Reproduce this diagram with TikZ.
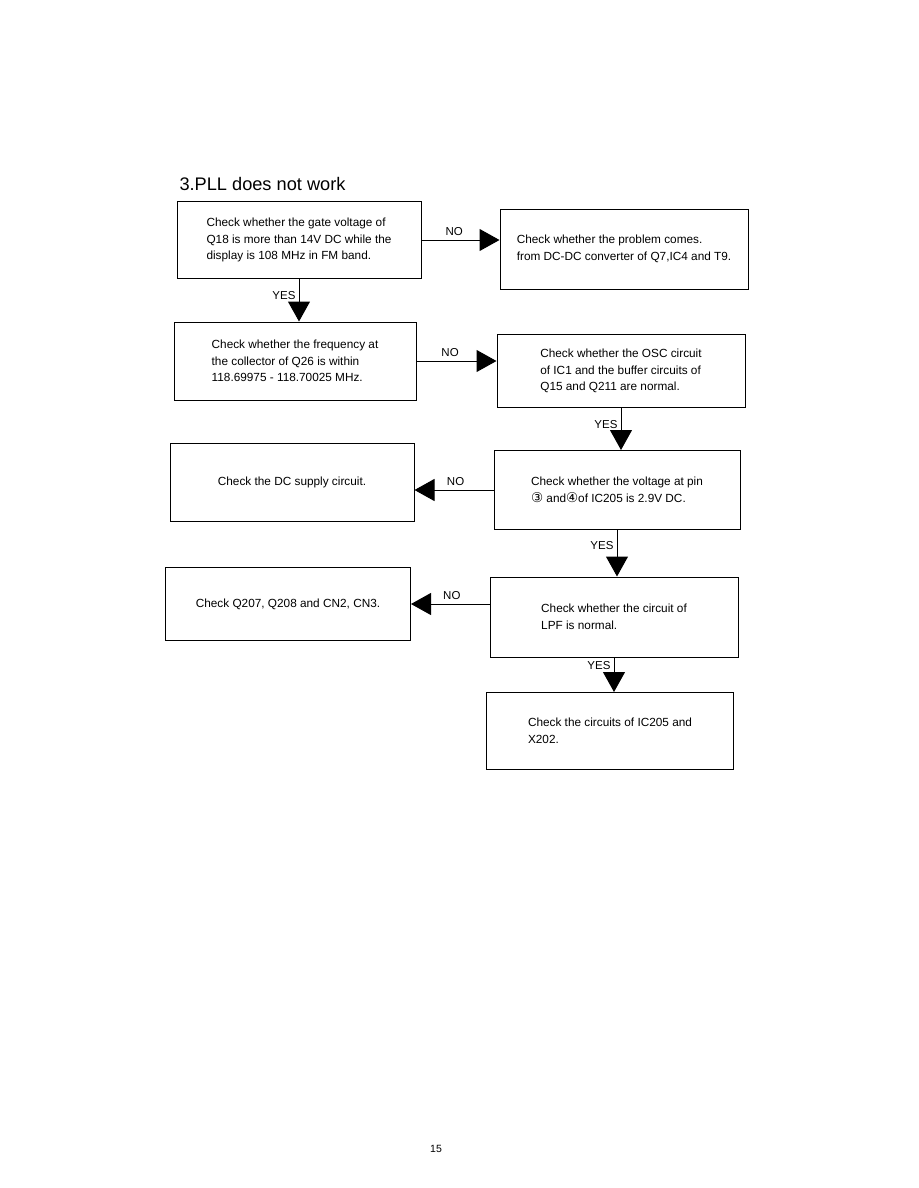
\documentclass[tikz,border=0pt]{standalone}
\usepackage{fontspec}
\setmainfont{Liberation Sans}
\newfontfamily\circfont{DejaVu Sans}
\newcommand{\pin}[1]{{\circfont\fontsize{13.5}{16}\selectfont #1}}
\usetikzlibrary{arrows.meta}
\begin{document}
\begin{tikzpicture}[x=1pt, y=-1pt,
  box/.style={draw, line width=1pt, align=left, inner sep=0pt,
    font=\fontsize{11.8}{16.6}\selectfont},
  flow/.style={-{Triangle[length=20pt,width=22pt]}, line width=1pt},
  yes/.style={font=\fontsize{11.5}{12}\selectfont, anchor=east, inner sep=3pt},
  no/.style={font=\fontsize{11.5}{12}\selectfont, above, inner sep=4pt}]
\useasboundingbox (0,0) rectangle (918,1188);
\node[anchor=west, font=\fontsize{18.2}{20}\selectfont] (title) at (176,184) {3.PLL does not work};
\node[box, minimum width=244pt, minimum height=77pt] (gate) at (299,240)
  {Check whether the gate voltage of\\Q18 is more than 14V DC while the\\display is 108 MHz in FM band.};
\node[box, minimum width=248pt, minimum height=80pt] (source) at (624,249)
  {Check whether the problem comes.\\from DC-DC converter of Q7,IC4 and T9.};
\node[box, minimum width=242pt, minimum height=78pt] (freq) at (295,361)
  {Check whether the frequency at\\the collector of Q26 is within\\118.69975 - 118.70025 MHz.};
\node[box, minimum width=248pt, minimum height=73pt] (osc) at (621,371)
  {Check whether the OSC circuit\\of IC1 and the buffer circuits of\\Q15 and Q211 are normal.};
\node[box, minimum width=244pt, minimum height=78pt] (supply) at (292,482)
  {Check the DC supply circuit.};
\node[box, minimum width=246pt, minimum height=79pt] (pinv) at (617,490)
  {Check whether the voltage at pin\\\pin{③} and\pin{④}of IC205 is 2.9V DC.};
\node[box, minimum width=248pt, minimum height=80pt] (lpf) at (614,617)
  {Check whether the circuit of\\LPF is normal.};
\node[box, minimum width=245pt, minimum height=73pt] (conn) at (288,604)
  {Check Q207, Q208 and CN2, CN3.};
\node[box, minimum width=247pt, minimum height=77pt] (xtal) at (610,731)
  {Check the circuits of IC205 and\\X202.};
\node[font=\fontsize{10.5}{12}\selectfont] (page) at (436,1149) {15};

\draw[flow] (gate.east) -- (gate.east -| source.west) node[no, pos=.42] {NO};
\draw[flow] (gate.south) -- (gate.south |- freq.north) node[yes, pos=.4] {YES};
\draw[flow] (freq.east) -- (freq.east -| osc.west) node[no, pos=.42] {NO};
\draw[flow] (osc.south) -- (osc.south |- pinv.north) node[yes, pos=.4] {YES};
\draw[flow] (pinv.west) -- (pinv.west -| supply.east) node[no, pos=.48] {NO};
\draw[flow] (pinv.south) -- (pinv.south |- lpf.north) node[yes, pos=.33] {YES};
\draw[flow] (lpf.west |- conn.east) -- (conn.east) node[no, pos=.48] {NO};
\draw[flow] (lpf.south) -- (lpf.south |- xtal.north) node[yes, pos=.22] {YES};
\end{tikzpicture}
\end{document}
